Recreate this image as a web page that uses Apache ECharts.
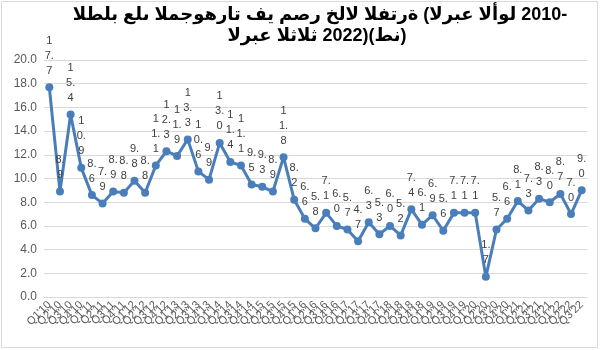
<!DOCTYPE html>
<html>
<head>
<meta charset="utf-8">
<script src="https://cdn.jsdelivr.net/npm/echarts@6/dist/echarts.min.js"></script>
<style>
html,body{margin:0;padding:0;background:#fff;}
#chart{width:600px;height:350px;}
</style>
</head>
<body>
<div id="chart"></div>
<script>
const categories = [
  "Q1'10","Q2'10","Q3'10","Q4'10",
  "Q1'11","Q2'11","Q3'11","Q4'11",
  "Q1'12","Q2'12","Q3'12","Q4'12",
  "Q1'13","Q2'13","Q3'13","Q4'13",
  "Q1'14","Q2'14","Q3'14","Q4'14",
  "Q1'15","Q2'15","Q3'15","Q4'15",
  "Q1'16","Q2'16","Q3'16","Q4'16",
  "Q1'17","Q2'17","Q3'17","Q4'17",
  "Q1'18","Q2'18","Q3'18","Q4'18",
  "Q1'19","Q2'19","Q3'19","Q4'19",
  "Q1'20","Q2'20","Q3'20","Q4'20",
  "Q1'21","Q2'21","Q3'21","Q4'21",
  "Q1'22","Q2'22","Q3'22"
];
const demand = [
  17.7, 8.9, 15.4, 10.9,
  8.6, 7.9, 8.9, 8.8,
  9.8, 8.8, 11.1, 12.3,
  11.9, 13.3, 10.6, 9.9,
  13.0, 11.4, 11.1, 9.5,
  9.3, 8.9, 11.8, 8.2,
  6.6, 5.8, 7.1, 6.0,
  5.7, 4.7, 6.3, 5.3,
  6.0, 5.2, 7.4, 6.1,
  6.9, 5.6, 7.1, 7.1,
  7.1, 1.7, 5.7, 6.6,
  8.1, 7.3, 8.3, 8.0,
  8.7, 7.0, 9.0
];
const yTicks = { min: 0, max: 20, interval: 2 };
const titleLine1 = 'الطلب على المجوهرات في مصر خلال الفترة (الربع الأول 2010-';
const titleLine2 = 'الربع الثالث 2022)(طن)';

function ltrOverride(s){ return '\u202D' + s + '\u202C'; }
function wrapLabel(v){
  const s = v.toFixed(1);
  if (s.length === 4) return s[0] + '\n' + s[1] + '.\n' + s[3];
  return s.slice(0,2) + '\n' + s[2];
}
const titleFont = { fontFamily: 'Liberation Sans, DejaVu Sans', fontWeight: 'bold', fontSize: 18, color: '#000' };

const chart = echarts.init(document.getElementById('chart'), null, {renderer:'canvas'});
chart.setOption({
  animation: false,
  backgroundColor: '#ffffff',
  title: [
    { text: ltrOverride(titleLine1), left: 315, top: 1, textAlign: 'center', textStyle: titleFont },
    { text: ltrOverride(titleLine2), left: 312, top: 22, textAlign: 'center', textStyle: titleFont }
  ],
  graphic: [
    { type: 'rect', shape: { x: 1.5, y: 1.5, width: 596, height: 346 },
      style: { fill: 'none', stroke: '#d9d9d9', lineWidth: 1 }, silent: true }
  ],
  grid: { left: 44, right: 13, top: 60, bottom: 53 },
  xAxis: {
    type: 'category',
    data: categories,
    boundaryGap: true,
    axisLine: { show: false },
    axisTick: { show: false },
    axisLabel: { interval: 0, rotate: 45, fontSize: 11, color: '#595959', margin: 6,
      fontFamily: 'Liberation Sans' }
  },
  yAxis: {
    type: 'value',
    min: yTicks.min, max: yTicks.max, interval: yTicks.interval,
    axisLine: { show: false },
    axisTick: { show: false },
    splitLine: { lineStyle: { color: '#d9d9d9', width: 1 } },
    axisLabel: { formatter: v => v.toFixed(1), fontSize: 12, color: '#595959', margin: 7,
      fontFamily: 'Liberation Sans' }
  },
  series: [{
    type: 'line',
    data: demand,
    symbol: 'circle',
    symbolSize: 8,
    lineStyle: { color: '#4a7ebb', width: 3 },
    itemStyle: { color: '#4a7ebb' },
    label: {
      show: true, position: 'top', distance: 5,
      formatter: p => wrapLabel(p.value),
      fontSize: 11, lineHeight: 15, color: '#404040',
      fontFamily: 'Liberation Sans', align: 'center'
    },
    labelLayout: { hideOverlap: false }
  }]
});
</script>
</body>
</html>
